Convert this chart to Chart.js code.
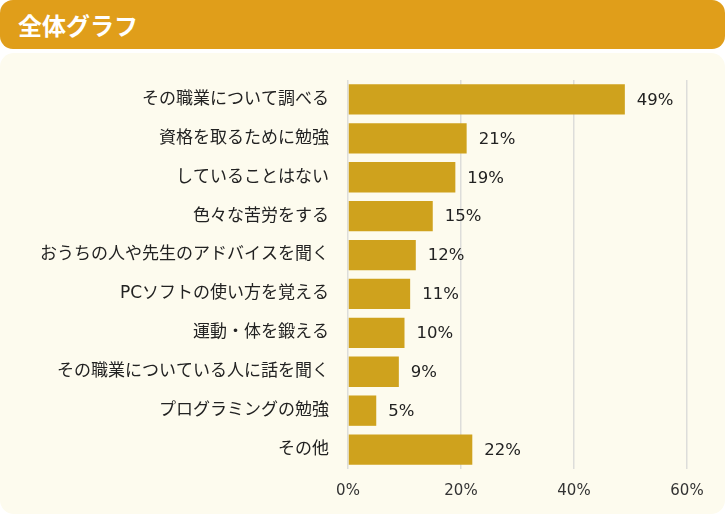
<!DOCTYPE html>
<html lang="ja">
<head>
<meta charset="utf-8">
<script src="https://cdn.jsdelivr.net/npm/chart.js@4/dist/chart.umd.min.js"></script>
<style>
  body { margin: 0; width: 725px; height: 514px; overflow: hidden; background: #fff; font-family: "Noto Sans CJK JP", sans-serif; }
  .head { position: absolute; left: 0; top: 0; width: 725px; height: 49px; background: #E09E1A; border-radius: 13px; }
  .head h1 { margin: 0; position: absolute; left: 18px; top: 8px; color: #fff; font-size: 24px; line-height: 34px; font-weight: bold; letter-spacing: 0; }
  .panel { position: absolute; left: 0; top: 53px; width: 725px; height: 461px; background: #FDFBEE; border-radius: 14px; }
  .box { position: absolute; left: 0; top: 52px; width: 725px; height: 462px; }
</style>
</head>
<body>
<div class="head"><h1>全体グラフ</h1></div>
<div class="panel"></div>
<div class="box"><canvas id="chart" width="725" height="462"></canvas></div>
<script>
const categories = [
  'その職業について調べる',
  '資格を取るために勉強',
  'していることはない',
  '色々な苦労をする',
  'おうちの人や先生のアドバイスを聞く',
  'PCソフトの使い方を覚える',
  '運動・体を鍛える',
  'その職業についている人に話を聞く',
  'プログラミングの勉強',
  'その他'
];
const values = [49, 21, 19, 15, 12, 11, 10, 9, 5, 22];
const xTicks = [0, 20, 40, 60];

// Latin glyphs from DejaVu (Verdana-like), kana/kanji fall back to Noto CJK
const fontFamily = '"DejaVu Sans", "Noto Sans CJK JP", sans-serif';

// draws the "49%" style labels at the end of each bar
const barLabels = {
  id: 'barLabels',
  afterDatasetsDraw(chart) {
    const ctx = chart.ctx;
    const meta = chart.getDatasetMeta(0);
    ctx.save();
    ctx.font = '16.5px ' + fontFamily;
    ctx.fillStyle = '#222';
    ctx.textAlign = 'left';
    ctx.textBaseline = 'middle';
    meta.data.forEach(function(bar, i) {
      ctx.fillText(values[i] + '%', bar.x + 12, bar.y + 1);
    });
    ctx.restore();
  }
};

new Chart(document.getElementById('chart'), {
  type: 'bar',
  data: {
    labels: categories,
    datasets: [{
      data: values,
      backgroundColor: '#CFA21D',
      borderWidth: 0,
      barPercentage: 0.78,
      categoryPercentage: 1
    }]
  },
  options: {
    indexAxis: 'y',
    responsive: false,
    animation: false,
    devicePixelRatio: 1,
    layout: { padding: { top: 28, right: 38, left: 0, bottom: 0 } },
    plugins: { legend: { display: false }, tooltip: { enabled: false } },
    scales: {
      x: {
        min: 0,
        max: 60,
        afterBuildTicks(scale) {
          scale.ticks = xTicks.map(v => ({ value: v }));
        },
        afterFit(scale) { scale.height = 45; },
        grid: { color: '#DDDDDA', lineWidth: 1.5, drawTicks: false },
        border: { display: false },
        ticks: {
          padding: 13,
          color: '#333',
          font: { family: fontFamily, size: 15 },
          callback: v => v + '%'
        }
      },
      y: {
        afterFit(scale) { scale.width = 348; },
        grid: { display: false },
        border: { display: false },
        ticks: {
          padding: 11,
          color: '#222',
          font: { family: fontFamily, size: 17 }
        }
      }
    }
  },
  plugins: [barLabels]
});
</script>
</body>
</html>
